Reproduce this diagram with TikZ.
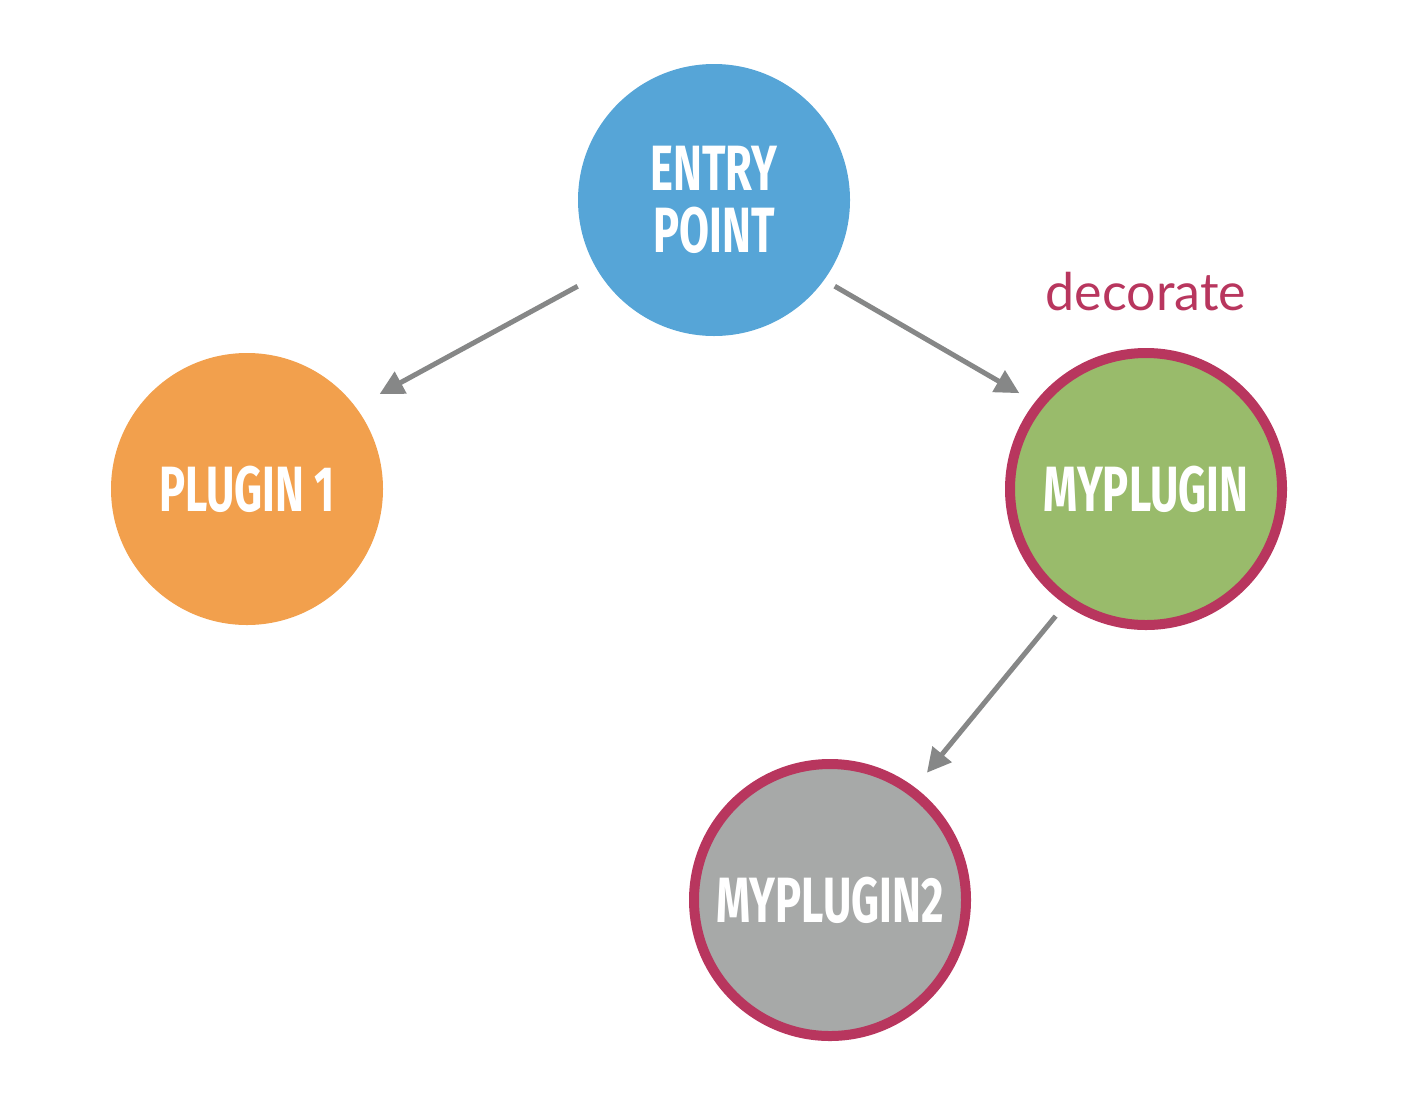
\documentclass[tikz,border=0pt]{standalone}
\usepackage{fontspec}
\usetikzlibrary{arrows.meta}
\newfontfamily\labelfont[FakeStretch=0.68]{Fira Sans}
\newfontfamily\notefont{Lato}
\definecolor{entryblue}{HTML}{56A5D7}
\definecolor{pluginorange}{HTML}{F2A04D}
\definecolor{plugingreen}{HTML}{99BB6B}
\definecolor{plugingray}{HTML}{A7A9A8}
\definecolor{decocrimson}{HTML}{B8365E}
\definecolor{arrowgray}{HTML}{868787}
\tikzset{
  plugin/.style={circle, minimum size=136pt, inner sep=0pt, text=white,
    align=center, font=\labelfont\bfseries\fontsize{32}{31}\selectfont},
  decorated/.style={draw=decocrimson, line width=5pt},
  arr/.style={draw=arrowgray, line width=2.5pt, -{Triangle[length=12pt,width=12pt]}}
}
\begin{document}
\begin{tikzpicture}[x=0.5pt,y=-0.5pt]
\useasboundingbox (0,0) rectangle (1416,1098);
\node[plugin, fill=entryblue] (entry) at (714,200) {ENTRY\\POINT};
\node[plugin, fill=pluginorange] (plugin1) at (247,489) {PLUGIN 1};
\node[plugin, fill=plugingreen, decorated] (myplugin) at (1146,489) {MYPLUGIN};
\node[plugin, fill=plugingray, decorated] (myplugin2) at (830,900) {MYPLUGIN2};
\node[anchor=base, text=decocrimson, font=\notefont\fontsize{26}{26}\selectfont] (deco) at (1146,310) {decorate};
% arrows
\draw[arr, shorten <=12.5pt, shorten >=13.5pt] (entry.213) -- (plugin1.37);
\draw[arr, shorten <=6pt, shorten >=9pt] (entry.324) -- (myplugin.142);
\draw[arr, shorten <=7.5pt, shorten >=9.5pt] (myplugin.235) -- (myplugin2.53);
\end{tikzpicture}
\end{document}
